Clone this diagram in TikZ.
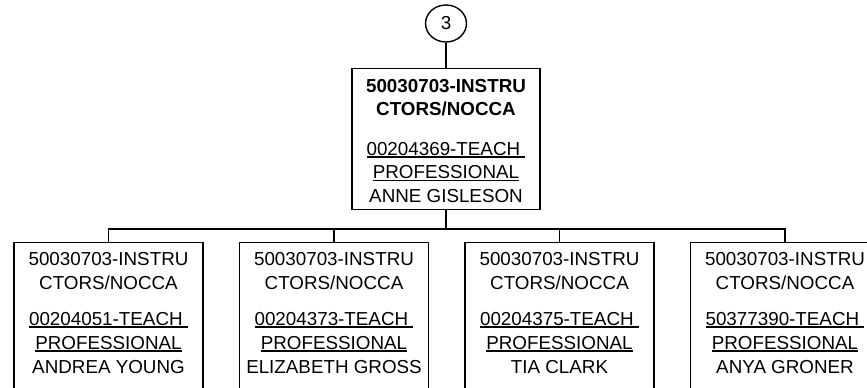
\documentclass[tikz,border=0pt]{standalone}
\usepackage{fontspec}
\setmainfont{Liberation Sans}
\usetikzlibrary{shapes.geometric}
\newcommand\ulx[1]{\setbox0\hbox{#1}\rlap{\rule[-2.8pt]{\wd0}{1.8pt}}\box0}
\begin{document}
\begin{tikzpicture}[x=1pt,y=-1pt,
  line width=1.4pt,
  boxm/.style={draw, rectangle, line width=1.4pt, minimum width=188pt, minimum height=141pt, inner sep=0pt, anchor=north},
  boxc/.style={draw, rectangle, line width=1.4pt, minimum width=189pt, minimum height=170pt, inner sep=0pt, anchor=north},
  txtm/.style={font=\fontsize{18.8}{23.5}\selectfont, align=center, inner sep=0pt, anchor=north},
  txtc/.style={font=\fontsize{18.8}{24}\selectfont, align=center, inner sep=0pt, anchor=north},
  conn/.style={draw, line width=1.4pt},
  pgref/.style={draw, ellipse, line width=1.4pt, minimum width=41pt, minimum height=37pt, inner sep=0pt, font=\fontsize{18.8}{24}\selectfont}]
\path[use as bounding box] (0,0) rectangle (867,388);
\clip (0,0) rectangle (867,388);
% page reference
\node[pgref] (pg) at (446,23.5) {3};
% main box
\node[boxm] (main) at (446,68) {};
\node[txtm] (tmain) at (446,78.3) {\bfseries 50030703-INSTRU\\\bfseries CTORS/NOCCA\\[16pt]\ulx{00204369-TEACH\ }\\\ulx{PROFESSIONAL}\\ANNE GISLESON};
% children
\node[boxc] (c1) at (108.5,242) {};
\node[boxc] (c2) at (334,242) {};
\node[boxc] (c3) at (559.5,242) {};
\node[boxc] (c4) at (785,242) {};
\node[txtc] (t1) at (108.5,251.3) {50030703-INSTRU\\CTORS/NOCCA\\[12pt]\ulx{00204051-TEACH\ }\\\ulx{PROFESSIONAL}\\ANDREA YOUNG};
\node[txtc] (t2) at (334,251.3) {50030703-INSTRU\\CTORS/NOCCA\\[12pt]\ulx{00204373-TEACH\ }\\\ulx{PROFESSIONAL}\\ELIZABETH GROSS};
\node[txtc] (t3) at (559.5,251.3) {50030703-INSTRU\\CTORS/NOCCA\\[12pt]\ulx{00204375-TEACH\ }\\\ulx{PROFESSIONAL}\\TIA CLARK};
\node[txtc] (t4) at (785,251.3) {50030703-INSTRU\\CTORS/NOCCA\\[12pt]\ulx{50377390-TEACH\ }\\\ulx{PROFESSIONAL}\\ANYA GRONER};
% connectors
\coordinate (bus) at (446,229);
\draw[conn] (pg.south) -- (main.north);
\draw[conn] (main.south) -- (bus);
\draw[conn] (bus) -| (c1.north);
\draw[conn] (bus) -| (c2.north);
\draw[conn] (bus) -| (c3.north);
\draw[conn] (bus) -| (c4.north);
\end{tikzpicture}
\end{document}
